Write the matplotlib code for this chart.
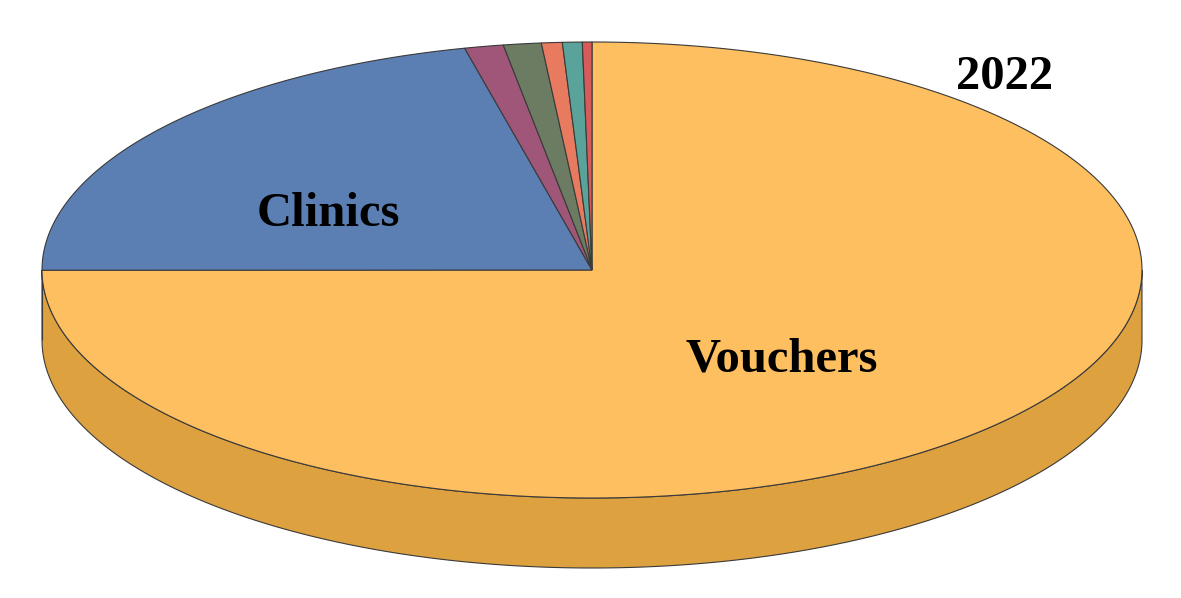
import numpy as np
import matplotlib
matplotlib.use("Agg")
import matplotlib.pyplot as plt
from matplotlib.patches import Polygon

# shares in percent, drawn clockwise starting at 12 o'clock
categories = ["Vouchers", "Clinics", "Other 1", "Other 2", "Other 3", "Other 4", "Other 5"]
shares = [75.0, 21.3, 1.14, 1.11, 0.61, 0.58, 0.28]
top_colors = ["#FDBF60", "#5B7FB3", "#A05678", "#6B7C63", "#E87B5F", "#5AA39A", "#D85B5B"]
side_colors = ["#DDA13F", "#48689A", "#854260", "#56644F", "#C9634A", "#468880", "#B84747"]
year = "2022"

W, H = 1181, 598
cx, cy, rx, ry, depth = 592, 270, 550, 228, 70
EDGE = "#3a3a3a"


def pt(theta_deg, dz=0.0):
    t = np.radians(theta_deg)
    return cx + rx * np.cos(t), cy - ry * np.sin(t) + dz


fig = plt.figure(figsize=(W / 100, H / 100), dpi=100)
ax = fig.add_axes([0, 0, 1, 1])
ax.set_xlim(0, W)
ax.set_ylim(H, 0)
ax.axis("off")

# wedge angle ranges (clockwise from 90 deg)
total = sum(shares)
spans = []
start = 90.0
for s in shares:
    end = start - 360.0 * s / total
    spans.append((start, end))
    start = end

# side walls: only the front half (angles -180..0) is visible
for (a0, a1), col in zip(spans, side_colors):
    lo, hi = min(a0, a1), max(a0, a1)
    for shift in (0, -360, 360):
        l, h = max(lo + shift, -180), min(hi + shift, 0)
        if h > l:
            th = np.linspace(l, h, 200)
            top = [pt(t) for t in th]
            bot = [pt(t, depth) for t in th[::-1]]
            ax.add_patch(Polygon(top + bot, closed=True, facecolor=col,
                                 edgecolor=EDGE, linewidth=0.8, zorder=1))

# top faces
for (a0, a1), col in zip(spans, top_colors):
    th = np.linspace(a0, a1, 300)
    poly = [(cx, cy)] + [pt(t) for t in th]
    ax.add_patch(Polygon(poly, closed=True, facecolor=col,
                         edgecolor=EDGE, linewidth=0.8, zorder=2))

font = dict(family="Liberation Serif", fontweight="bold", color="black", zorder=5)
ax.text(328, 214, categories[1], ha="center", va="center", fontsize=35, **font)
ax.text(782, 359, categories[0], ha="center", va="center", fontsize=35, **font)
ax.text(1005, 77, year, ha="center", va="center", fontsize=35, **font)

fig.savefig("out.png", dpi=100)
